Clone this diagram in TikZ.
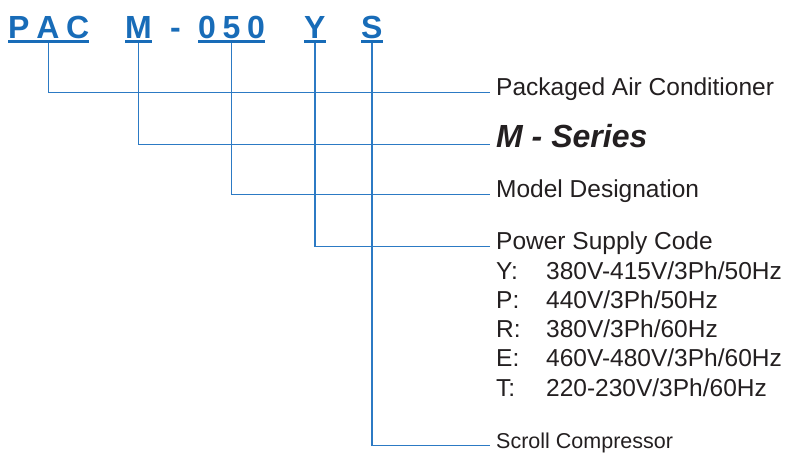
\documentclass[tikz,border=0pt]{standalone}
\usepackage{fontspec}
\setmainfont{Liberation Sans}
\usepackage{xcolor}
\definecolor{codeblue}{RGB}{24,108,184}
\definecolor{lineblue}{RGB}{44,122,196}
\definecolor{textgray}{RGB}{35,31,32}
\newcommand{\lgap}{\hspace{0.21em}}

\begin{document}
\begin{tikzpicture}[x=1pt,y=-1pt,
  code/.style={font=\fontsize{32}{32}\selectfont\bfseries, text=codeblue, inner sep=0pt, text depth=0pt, anchor=base west},
  desc/.style={font=\fontsize{24.5}{28}\selectfont, text=textgray, inner xsep=6pt, inner ysep=0pt, anchor=base west},
  uline/.style={draw=codeblue, line width=2.6pt},
  lead/.style={draw=lineblue, line width=1.3pt}]
  \useasboundingbox (0,0) rectangle (785,453);

  % model code
  \node[code] (pac) at (8,38) {P\lgap A\lgap C};
  \node[code] (ser) at (125,38) {M};
  \node[code] (dash) at (170,38) {-};
  \node[code] (mod) at (198,38) {0\lgap 5\lgap 0};
  \node[code] (pwr) at (304,38) {Y};
  \node[code] (cmp) at (361,38) {S};
  \foreach \n in {pac,ser,mod,pwr,cmp}
    \draw[uline] ([yshift=-3.5pt]\n.south west) -- ([yshift=-3.5pt]\n.south east);

  % descriptions
  \node[desc] (pacd) at (490,95) {Packaged Air Conditioner};
  \node[desc, font=\fontsize{32}{36}\selectfont\bfseries\itshape] (serd) at (490,147) {M - Series};
  \node[desc] (modd) at (490,197) {Model Designation};
  \node[desc] (pwrd) at (490,249) {Power Supply Code};
  \node[desc, font=\fontsize{21.5}{24}\selectfont] (cmpd) at (490,448) {Scroll Compressor};

  % power supply codes
  \node[desc] (ky) at (490,279) {Y:};
  \node[desc] (vy) at (540,279) {380V-415V/3Ph/50Hz};
  \node[desc] (kp) at (490,308.3) {P:};
  \node[desc] (vp) at (540,308.3) {440V/3Ph/50Hz};
  \node[desc] (kr) at (490,337.6) {R:};
  \node[desc] (vr) at (540,337.6) {380V/3Ph/60Hz};
  \node[desc] (ke) at (490,366.9) {E:};
  \node[desc] (ve) at (540,366.9) {460V-480V/3Ph/60Hz};
  \node[desc] (kt) at (490,396.2) {T:};
  \node[desc] (vt) at (540,396.2) {220-230V/3Ph/60Hz};

  % leader lines
  \draw[lead] ([yshift=-5pt]pac.south) |- (pacd.mid west);
  \draw[lead] ([yshift=-5pt]ser.south) |- (serd.mid west);
  \draw[lead] ([yshift=-5pt]mod.south) |- (modd.mid west);
  \draw[lead] ([yshift=-5pt]pwr.south) |- (pwrd.mid west);
  \draw[lead] ([yshift=-5pt]cmp.south) |- (cmpd.mid west);
\end{tikzpicture}
\end{document}
